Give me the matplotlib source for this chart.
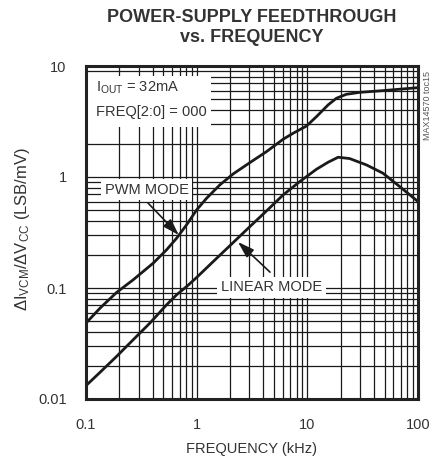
import matplotlib
matplotlib.use("Agg")
import matplotlib.pyplot as plt
import matplotlib.patches as mpatches
from matplotlib import font_manager
from matplotlib.ticker import LogLocator, NullFormatter, FixedLocator, FixedFormatter

avail = {f.name for f in font_manager.fontManager.ttflist}
fam = [f for f in ["Liberation Sans", "DejaVu Sans"] if f in avail]
plt.rcParams['font.family'] = fam
plt.rcParams['mathtext.fontset'] = 'custom'
plt.rcParams['mathtext.rm'] = fam[0]
plt.rcParams['mathtext.it'] = fam[0]
plt.rcParams['mathtext.bf'] = fam[0]

TXT = '#333333'

# Data (frequency in kHz)
pwm_freq = [0.1, 0.134, 0.189, 0.267, 0.405, 0.535, 0.659, 0.811, 1.0, 1.23, 1.62, 2.14,
            3.03, 4.28, 6.05, 7.45, 9.83, 12.1, 15.4, 18.3, 22.5, 29.8, 48.3, 100]
pwm_val = [0.0483, 0.0659, 0.0912, 0.1186, 0.1675, 0.221, 0.281, 0.371, 0.506, 0.644, 0.849, 1.067,
           1.349, 1.694, 2.19, 2.48, 2.88, 3.50, 4.46, 5.12, 5.56, 5.79, 6.0, 6.38]

lin_freq = [0.1, 0.134, 0.189, 0.267, 0.378, 0.535, 0.659, 0.811, 1.0, 1.41, 2.14, 3.03,
            4.28, 6.05, 8.55, 12.1, 15.4, 19.0, 24.1, 34.2, 48.3, 68.3, 100]
lin_val = [0.0132, 0.0174, 0.0242, 0.0342, 0.0483, 0.0706, 0.0869, 0.103, 0.1245, 0.173, 0.257, 0.358,
           0.495, 0.690, 0.910, 1.175, 1.358, 1.507, 1.466, 1.285, 1.081, 0.820, 0.601]

x_ticks = [0.1, 1, 10, 100]
x_labels = ['0.1', '1', '10', '100']
y_ticks = [0.01, 0.1, 1, 10]
y_labels = ['0.01', '0.1', '1', '10']

fig = plt.figure(figsize=(4.33, 4.62), dpi=100)
ax = fig.add_axes([86/433, 1 - 399/462, 332/433, 333/462])
ax.set_xscale('log')
ax.set_yscale('log')
ax.set_xlim(0.1, 100)
ax.set_ylim(0.01, 10)

ax.xaxis.set_major_locator(FixedLocator(x_ticks))
ax.xaxis.set_major_formatter(FixedFormatter(x_labels))
ax.yaxis.set_major_locator(FixedLocator(y_ticks))
ax.yaxis.set_major_formatter(FixedFormatter(y_labels))
ax.xaxis.set_minor_locator(LogLocator(base=10, subs=range(2, 10)))
ax.yaxis.set_minor_locator(LogLocator(base=10, subs=range(2, 10)))
ax.xaxis.set_minor_formatter(NullFormatter())
ax.yaxis.set_minor_formatter(NullFormatter())

ax.grid(True, which='both', color='#1a1a1a', linewidth=0.9)
ax.set_axisbelow(True)
ax.tick_params(which='both', length=0, pad=14, labelsize=10.5, labelcolor=TXT)
for s in ax.spines.values():
    s.set_linewidth(2.2)
    s.set_color('#222222')
    s.set_zorder(7)

ax.plot(pwm_freq, pwm_val, color='#1a1a1a', linewidth=2.0, zorder=3)
ax.plot(lin_freq, lin_val, color='#1a1a1a', linewidth=2.0, zorder=3)

# white background for the condition box
ax.add_patch(mpatches.Rectangle((0.104, 2.85), 1.36 - 0.104, 8.2 - 2.85, facecolor='white',
                                edgecolor='none', zorder=4))
ax.text(0.123, 6.34, r'I$_{\mathrm{OUT}}$ = 32mA', fontsize=10.5, color=TXT, va='center', ha='left',
        zorder=5)
ax.text(0.123, 3.85, 'FREQ[2:0] = 000', fontsize=10.5, color=TXT, va='center', ha='left', zorder=5)

box = dict(facecolor='white', edgecolor='none', pad=2.5)
ax.text(0.352, 0.764, 'PWM MODE', fontsize=10.5, color=TXT, ha='center', va='center', bbox=box, zorder=5)
ax.text(4.74, 0.102, 'LINEAR MODE', fontsize=10.5, color=TXT, ha='center', va='center', bbox=box, zorder=5)

arrow = dict(arrowstyle='-|>,head_length=1.0,head_width=0.32', color='#1a1a1a', lw=1.2,
             shrinkA=0, shrinkB=0)
ax.annotate('', xy=(0.69, 0.30), xytext=(0.363, 0.583), arrowprops=arrow, zorder=6)
ax.annotate('', xy=(2.36, 0.26), xytext=(4.6, 0.139), arrowprops=arrow, zorder=6)

fig.text(252/433, 1 - 18/462, 'POWER-SUPPLY FEEDTHROUGH', ha='center', va='center',
         fontsize=13, fontweight='bold', color=TXT)
fig.text(252/433, 1 - 38/462, 'vs. FREQUENCY', ha='center', va='center',
         fontsize=13, fontweight='bold', color=TXT)
fig.text(252/433, 1 - 449/462, 'FREQUENCY (kHz)', ha='center', va='center', fontsize=10.5, color=TXT)
fig.text(23/433, 1 - 229/462, r'$\Delta$I$_{\mathrm{VCM}}$/$\Delta$V$_{\mathrm{CC}}$ (LSB/mV)',
         ha='center', va='center', rotation=90, fontsize=12, color=TXT)
fig.text(427/433, 1 - 105/462, 'MAX14570 toc15', ha='center', va='center', rotation=90,
         fontsize=6.5, color='#555555')

fig.savefig('out.png', dpi=100)
